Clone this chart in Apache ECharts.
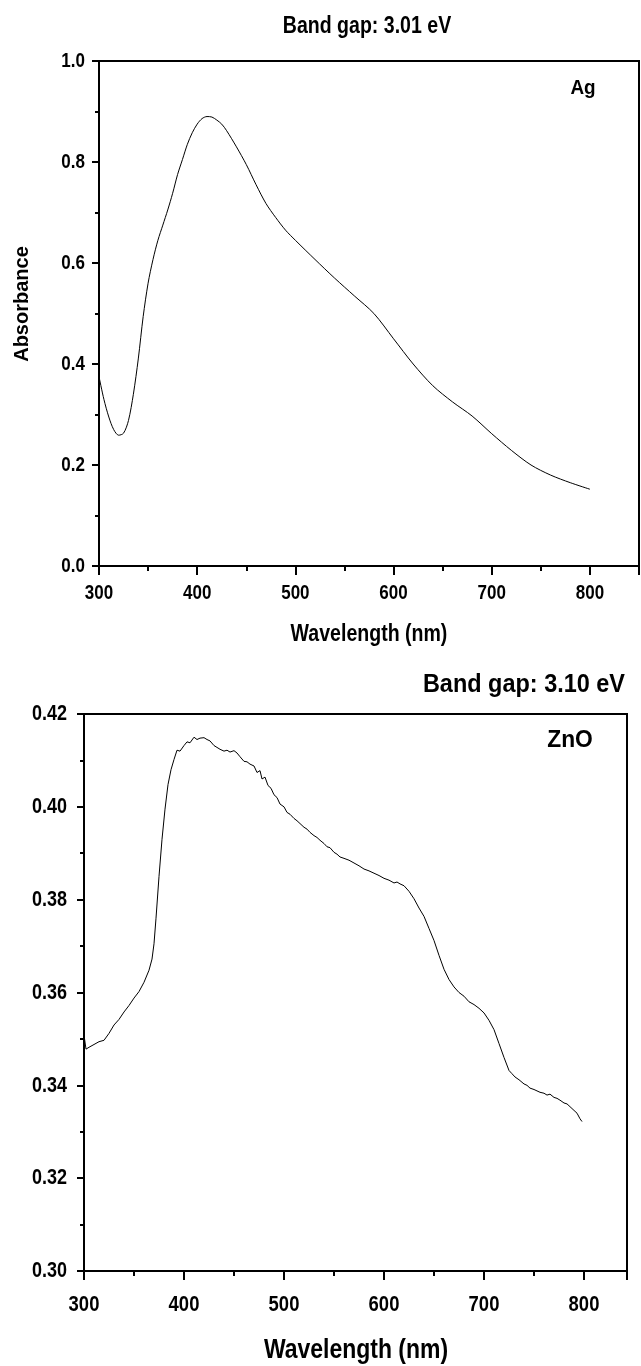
<!DOCTYPE html>
<html><head><meta charset="utf-8">
<script src="https://cdn.jsdelivr.net/npm/echarts@6/dist/echarts.min.js"></script>
<style>html,body{margin:0;padding:0;background:#fff}#c{width:641px;height:1366px}</style>
</head><body><div id="c"></div>
<script>
// ---- Data ----
const agWavelength = [300,305,310,315,320,325,330,335,340,345,350,355,360,365,370,375,380,385,390,395,400,405,410,415,420,425,430,440,450,460,470,480,490,500,520,540,560,580,600,620,640,660,680,700,720,740,760,780,800];
const agAbsorbance = [0.375,0.330,0.295,0.270,0.259,0.263,0.288,0.340,0.410,0.494,0.560,0.607,0.645,0.675,0.705,0.738,0.775,0.805,0.835,0.858,0.875,0.886,0.890,0.889,0.883,0.875,0.862,0.830,0.795,0.755,0.718,0.690,0.665,0.645,0.607,0.570,0.535,0.500,0.450,0.400,0.357,0.325,0.297,0.262,0.229,0.200,0.180,0.165,0.152];

const znoWavelength = [300,302,305,310,315,320,325,330,335,340,345,350,355,360,365,368,370,372,375,378,381,384,387,390,393,396,400,403,406,410,413,416,420,423,426,430,433,436,440,443,446,450,453,456,460,463,466,470,473,476,478,481,484,487,490,493,496,500,503,506,510,513,516,520,523,526,530,533,536,540,543,546,550,553,556,560,565,570,575,580,585,590,595,600,605,610,613,616,620,625,630,635,640,645,650,655,660,665,670,675,680,685,690,695,700,705,710,715,720,725,728,731,735,740,743,746,750,753,756,760,763,766,770,773,776,780,783,786,790,793,796,798];
const znoAbsorbance = [0.3508,0.3478,0.3482,0.3488,0.3494,0.3497,0.3512,0.3530,0.3542,0.3558,0.3572,0.3588,0.3602,0.3622,0.3648,0.3672,0.3705,0.3760,0.3850,0.3930,0.3995,0.4048,0.4080,0.4102,0.4122,0.4120,0.4132,0.4140,0.4138,0.4150,0.4145,0.4148,0.4149,0.4145,0.4142,0.4132,0.4128,0.4124,0.4120,0.4122,0.4118,0.4121,0.4116,0.4108,0.4098,0.4097,0.4092,0.4088,0.4074,0.4078,0.4060,0.4064,0.4046,0.4040,0.4026,0.4020,0.4006,0.4000,0.3988,0.3984,0.3975,0.3970,0.3964,0.3956,0.3952,0.3945,0.3938,0.3934,0.3928,0.3921,0.3914,0.3912,0.3902,0.3898,0.3892,0.3889,0.3885,0.3879,0.3873,0.3866,0.3862,0.3857,0.3852,0.3846,0.3842,0.3836,0.3838,0.3834,0.3830,0.3818,0.3802,0.3782,0.3764,0.3738,0.3712,0.3680,0.3650,0.3628,0.3612,0.3600,0.3592,0.3580,0.3574,0.3566,0.3556,0.3540,0.3520,0.3490,0.3460,0.3432,0.3425,0.3418,0.3412,0.3403,0.3400,0.3394,0.3391,0.3388,0.3385,0.3383,0.3379,0.3381,0.3374,0.3372,0.3368,0.3362,0.3360,0.3354,0.3346,0.3340,0.3328,0.3322];

// tick labels
const xTickLabels = ['300','400','500','600','700','800'];
const agYTickLabels = ['0.0','0.2','0.4','0.6','0.8','1.0'];
const znoYTickLabels = ['0.30','0.32','0.34','0.36','0.38','0.40','0.42'];

const titles = ['Band gap: 3.01 eV', 'Band gap: 3.10 eV'];
const sampleNames = ['Ag', 'ZnO'];
const xAxisName = 'Wavelength (nm)';
const yAxisName = 'Absorbance';

// ---- Chart ----
const SANS = '"Liberation Sans", Arial, sans-serif';
const BLK = '#000';

function xAxisCfg(gridIndex, max) {
  return {
    type: 'value', gridIndex, min: 300, max, interval: 100,
    axisLine: { lineStyle: { color: BLK, width: 2 } },
    axisTick: { length: 9, lineStyle: { color: BLK, width: 2 } },
    minorTick: { show: true, splitNumber: 2, length: 5, lineStyle: { color: BLK, width: 2 } },
    splitLine: { show: false },
    axisLabel: { show: false }
  };
}
function yAxisCfg(gridIndex, min, max, interval) {
  return {
    type: 'value', gridIndex, min, max, interval,
    axisLine: { show: true, lineStyle: { color: BLK, width: 2 } },
    axisTick: { show: true, length: 7, lineStyle: { color: BLK, width: 2 } },
    minorTick: { show: true, splitNumber: 2, length: 4, lineStyle: { color: BLK, width: 2 } },
    splitLine: { show: false },
    axisLabel: { show: false }
  };
}

// narrow-looking bold text (Arial Narrow look) via horizontal scaling
function narrowText(text, x, y, size, sx, align, rot) {
  return { type: 'text', x, y, scaleX: sx, scaleY: 1, rotation: rot || 0, silent: true,
    style: { text, fill: BLK, font: 'bold ' + size + 'px ' + SANS,
      textAlign: align || 'center', textVerticalAlign: 'middle' } };
}

const chart = echarts.init(document.getElementById('c'), null, { renderer: 'canvas' });
chart.setOption({
  animation: false,
  backgroundColor: '#fff',
  grid: [
    { left: 99, right: 2, top: 61, height: 505, show: true, borderColor: BLK, borderWidth: 2, backgroundColor: 'transparent' },
    { left: 84, right: 14, top: 714, height: 557, show: true, borderColor: BLK, borderWidth: 2, backgroundColor: 'transparent' }
  ],
  xAxis: [ xAxisCfg(0, 850), xAxisCfg(1, 843) ],
  yAxis: [ yAxisCfg(0, 0, 1.0, 0.2), yAxisCfg(1, 0.30, 0.42, 0.02) ],
  series: [
    { type: 'line', xAxisIndex: 0, yAxisIndex: 0, showSymbol: false, smooth: 0.3,
      lineStyle: { color: BLK, width: 1 }, itemStyle: { color: BLK },
      data: agWavelength.map((w, i) => [w, agAbsorbance[i]]) },
    { type: 'line', xAxisIndex: 1, yAxisIndex: 1, showSymbol: false,
      lineStyle: { color: BLK, width: 1 }, itemStyle: { color: BLK },
      data: znoWavelength.map((w, i) => [w, znoAbsorbance[i]]) }
  ]
});

// Tick labels placed through the library's own axis scales
const g = [];
const px = (axis, idx, v) => chart.convertToPixel(axis === 'x' ? { xAxisIndex: idx } : { yAxisIndex: idx }, v);
const ax0y = px('y', 0, 0), ax0x = px('x', 0, 300);
const ax1y = px('y', 1, 0.30), ax1x = px('x', 1, 300);
xTickLabels.forEach(t => {
  g.push(narrowText(t, px('x', 0, +t), ax0y + 27, 20, 0.85));
  g.push(narrowText(t, px('x', 1, +t), ax1y + 34, 22.5, 0.82));
});
agYTickLabels.forEach(t => g.push(narrowText(t, ax0x - 14, px('y', 0, +t), 20, 0.85, 'right')));
znoYTickLabels.forEach(t => g.push(narrowText(t, ax1x - 17, px('y', 1, +t), 22.5, 0.8, 'right')));

g.push(
  narrowText(titles[0], 367, 27, 23, 0.85),
  narrowText(sampleNames[0], 583, 88, 21, 0.9),
  narrowText(xAxisName, 369, 635, 23, 0.85),
  narrowText(yAxisName, 22, 304, 20, 1, 'center', Math.PI / 2),
  narrowText(titles[1], 625, 685, 25.5, 0.92, 'right'),
  narrowText(sampleNames[1], 570, 740, 24, 0.95),
  narrowText(xAxisName, 356, 1350, 28, 0.82)
);
chart.setOption({ graphic: g });
</script></body></html>
